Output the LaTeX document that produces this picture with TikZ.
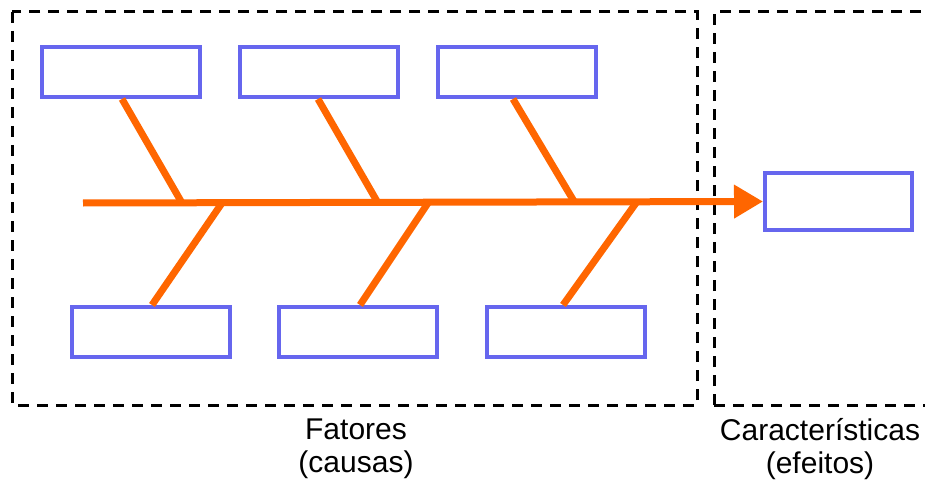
\documentclass[tikz,border=0pt]{standalone}
\usepackage{fontspec}
\setmainfont{Liberation Sans}
\usetikzlibrary{arrows.meta}
\definecolor{boxblue}{RGB}{102,102,238}
\definecolor{bone}{RGB}{255,102,0}
\tikzset{
  cbox/.style={draw=boxblue, line width=4pt, minimum width=#1, minimum height=50pt, inner sep=0pt},
  cbox/.default=158pt,
  region/.style={draw=black, line width=3pt, dash pattern=on 11pt off 8pt},
  fishbone/.style={draw=bone, line width=7pt},
  lbl/.style={align=center, font=\fontsize{30}{30}\selectfont, inner sep=0pt}
}
\begin{document}
\begin{tikzpicture}[x=1pt,y=-1pt]
\useasboundingbox (0,0) rectangle (925,481);
\clip (0,0) rectangle (925,481);
\fill[white] (0,0) rectangle (925,481);
% dashed regions
\draw[region] (12,12) rectangle (697,405);
\draw[region] (714,405) -- (714,12) -- (940,12);
\draw[region] (714,405) -- (940,405);
% boxes
\node[cbox] (t1) at (121,72) {};
\node[cbox] (t2) at (319,72) {};
\node[cbox] (t3) at (517,72) {};
\node[cbox] (b1) at (151,332) {};
\node[cbox] (b2) at (357.5,332) {};
\node[cbox] (b3) at (566,332) {};
\node[cbox=147pt, minimum height=57pt] (eff) at (838.5,201.5) {};
% spine
\coordinate (s0) at (83,203);
\coordinate (j1) at (182,203);
\coordinate (j2) at (378,203);
\coordinate (j3) at (575,203);
\coordinate (k1) at (222,203);
\coordinate (k2) at (428,203);
\coordinate (k3) at (636,203);
\draw[fishbone, -{Triangle[length=29pt,width=32pt]}] (s0) -- (eff.west);
% bones
\draw[fishbone] (t1.south) ++(1,0) coordinate (u1) (u1) -- (j1);
\draw[fishbone] (t2.south) ++(-1,0) coordinate (u2) (u2) -- (j2);
\draw[fishbone] (t3.south) ++(-4,0) coordinate (u3) (u3) -- (j3);
\draw[fishbone] (k1) -- ([xshift=1pt]b1.north);
\draw[fishbone] (k2) -- ([xshift=2.5pt]b2.north);
\draw[fishbone] (k3) -- ([xshift=-3pt]b3.north);
% labels
\node[lbl] (f) at (356,449) {Fatores\\[3pt](causas)};
\node[lbl] (c) at (820,449) {Características\\[3pt](efeitos)};
\end{tikzpicture}
\end{document}
